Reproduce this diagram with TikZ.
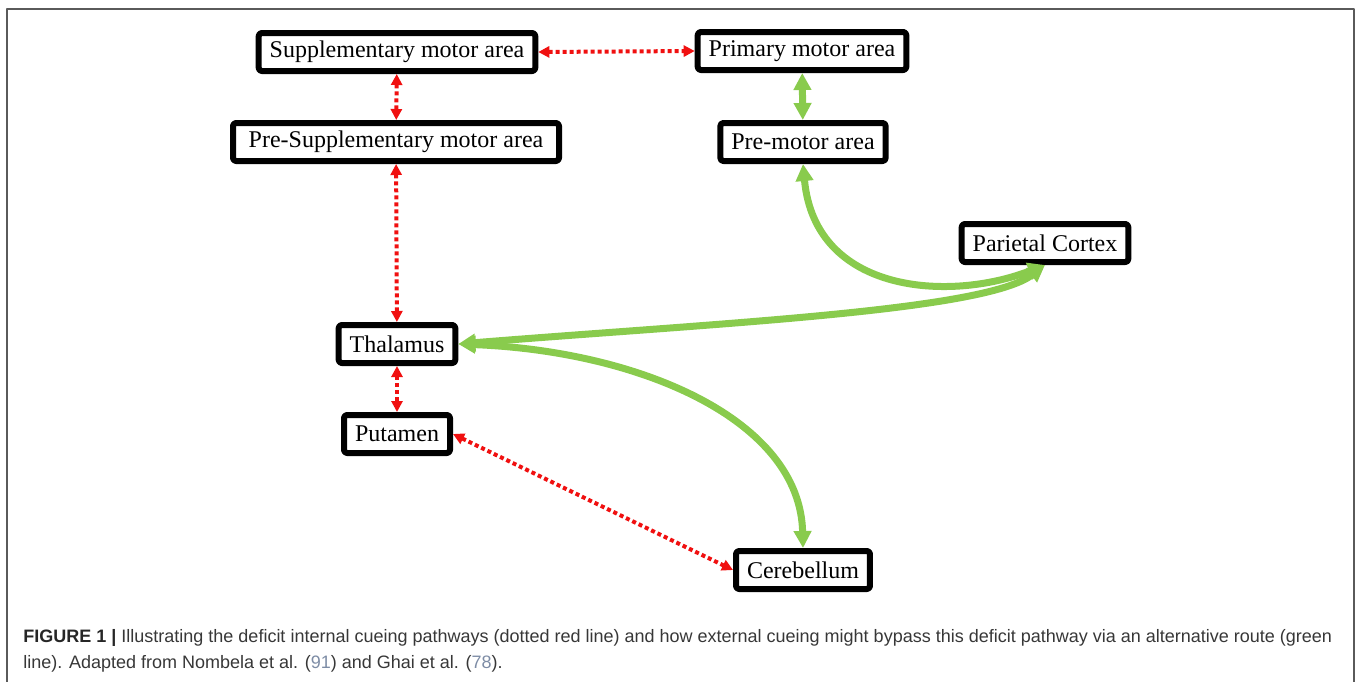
\documentclass[tikz,border=0pt]{standalone}
\usepackage{fontspec}
\setmainfont{Liberation Serif}
\newfontfamily\capfont{Liberation Sans}
\usetikzlibrary{arrows.meta}
\definecolor{cuegreen}{RGB}{137,203,77}
\definecolor{cuered}{RGB}{240,16,16}
\definecolor{framegray}{RGB}{90,90,90}
\definecolor{capgray}{RGB}{55,55,55}
\definecolor{refblue}{RGB}{125,140,165}
\begin{document}
\begin{tikzpicture}[x=0.5pt,y=0.5pt,line join=round,
    area/.style={draw=black,line width=3pt,rounded corners=1.5pt,fill=white,
      minimum height=19pt,inner xsep=5.5pt,inner ysep=0pt,font=\fontsize{12}{14}\selectfont},
    inner/.style={cuered,line width=2pt,dash pattern=on 2pt off 1.5pt,
      {Triangle[length=5.5pt,width=5.5pt]}-{Triangle[length=5.5pt,width=5.5pt]}},
    outer/.style={cuegreen,line width=3.5pt,
      {Triangle[length=8.5pt,width=8.5pt]}-{Triangle[length=8.5pt,width=8.5pt]}},
    caption/.style={anchor=base west,inner sep=0pt,text=capgray,
      font=\capfont\fontsize{9}{13}\selectfont}]
  \useasboundingbox (0,0) rectangle (1358,-681);
  \draw[framegray,line width=0.75pt] (7,-700) -- (7,-9) -- (1354,-9) -- (1354,-700);
  \node[area] (sma) at (397,-52) {Supplementary motor area};
  \node[area,minimum width=163pt] (presma) at (396,-142) {Pre-Supplementary motor area};
  \node[area] (pma) at (802,-51) {Primary motor area};
  \node[area] (premotor) at (803,-142) {Pre-motor area};
  \node[area] (parietal) at (1045,-243) {Parietal Cortex};
  \node[area] (thal) at (397,-344) {Thalamus};
  \node[area] (put) at (397,-434) {Putamen};
  \node[area] (cereb) at (803,-570) {Cerebellum};
  \draw[inner] (sma.east) -- (pma.west);
  \draw[inner] (sma) -- (presma);
  \draw[inner] (presma) -- (thal);
  \draw[inner] (thal) -- (put);
  \draw[inner] (put.east) -- (cereb.west);
  \draw[outer] (pma) -- (premotor);
  \draw[outer] (premotor.south) .. controls +(12,-130) and +(-95,-37) .. (parietal.south);
  \draw[outer] (thal.east) .. controls +(261,21) and +(-60,-46) .. (parietal.south);
  \draw[outer] (thal.east) .. controls +(182,-7) and +(-3,128) .. (cereb.north);
  \node[caption] (cap1) at (23,-642) {\textbf{\color{black!85}FIGURE 1 |} Illustrating the deficit internal cueing pathways (dotted red line) and how external cueing might bypass this deficit pathway via an alternative route (green};
  \node[caption] (cap2) at (23,-668) {line). Adapted from Nombela et al. (\textcolor{refblue}{91}) and Ghai et al. (\textcolor{refblue}{78}).};
\end{tikzpicture}
\end{document}
